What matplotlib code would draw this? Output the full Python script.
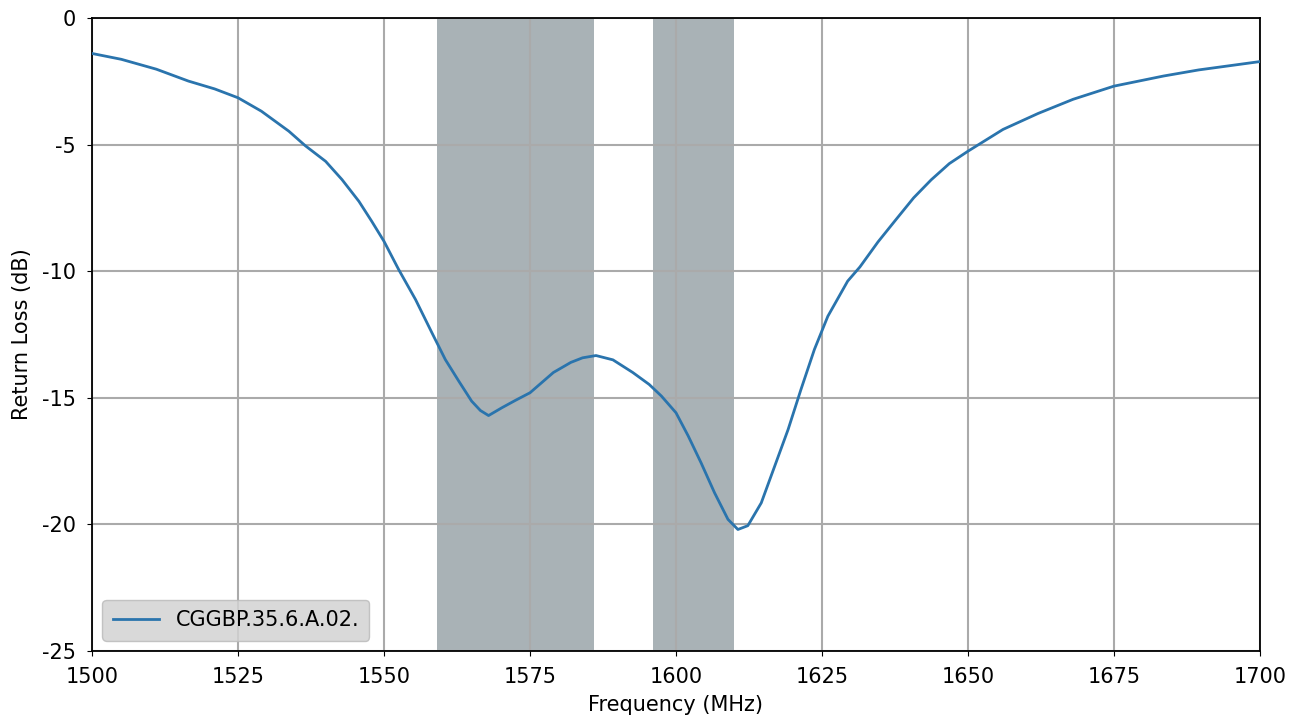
import matplotlib
matplotlib.use("Agg")
import matplotlib.pyplot as plt

# values
freq = [1500, 1505, 1511, 1516.5, 1521, 1525, 1529, 1533.7, 1536.5, 1540,
        1542.8, 1545.7, 1547.9, 1550, 1552.5, 1555.4, 1558.2, 1560.5, 1562.8, 1565,
        1566.5, 1567.9, 1570.2, 1572.5, 1575, 1577, 1579, 1582, 1584, 1586.3,
        1589.2, 1592.6, 1595.4, 1597.5, 1600, 1602.1, 1604.3, 1606.6, 1608.9, 1610.6,
        1612.3, 1614.6, 1616.9, 1619.2, 1621.4, 1623.7, 1626, 1629.4, 1631.5, 1634.6,
        1637.6, 1640.7, 1643.7, 1646.8, 1650, 1656, 1662, 1668, 1675, 1683.5,
        1689.5, 1700]
return_loss = [-1.40, -1.63, -2.02, -2.49, -2.80, -3.15, -3.68, -4.47, -5.04, -5.66,
               -6.38, -7.24, -8.03, -8.82, -9.93, -11.12, -12.43, -13.49, -14.34, -15.13,
               -15.50, -15.70, -15.39, -15.10, -14.80, -14.40, -14.00, -13.60, -13.42, -13.33,
               -13.50, -14.00, -14.47, -14.93, -15.59, -16.51, -17.57, -18.75, -19.80, -20.20,
               -20.05, -19.15, -17.70, -16.25, -14.67, -13.09, -11.78, -10.39, -9.83, -8.84,
               -7.98, -7.10, -6.39, -5.75, -5.26, -4.40, -3.77, -3.21, -2.69, -2.29,
               -2.05, -1.72]
bands = [(1559, 1586), (1596, 1610)]
label = "CGGBP.35.6.A.02."

plt.rcParams['axes.unicode_minus'] = False
plt.rcParams['font.size'] = 15

fig = plt.figure(figsize=(13.02, 7.24), dpi=100)
ax = fig.add_axes([0.0707, 0.1008, 0.8970, 0.8743])

ax.grid(True, color='#aaaaaa', linewidth=1.5)
for lo, hi in bands:
    ax.axvspan(lo, hi, color='#8c989e', alpha=0.75, linewidth=0, zorder=1.5)

ax.plot(freq, return_loss, color='#2a74ad', linewidth=2.0, label=label, zorder=3)

ax.set_xlim(1500, 1700)
ax.set_ylim(-25, 0)
ax.set_xticks(range(1500, 1701, 25))
ax.set_yticks(range(-25, 1, 5))
ax.tick_params(pad=8)
ax.set_xlabel('Frequency (MHz)', labelpad=6)
ax.set_ylabel('Return Loss (dB)', labelpad=7)
for s in ax.spines.values():
    s.set_linewidth(1.3)

leg = ax.legend(loc='lower left', facecolor='lightgray', framealpha=0.85,
                edgecolor='#bbbbbb', borderpad=0.5, handlelength=2.2)

fig.savefig('out.png', dpi=100)
